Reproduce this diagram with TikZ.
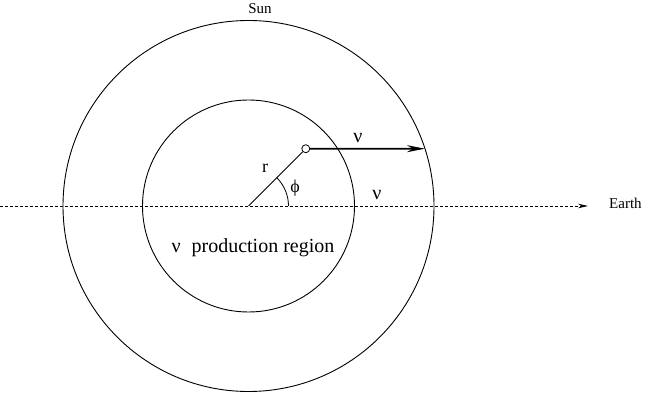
\documentclass[tikz,border=0pt]{standalone}
\usepackage{fontspec}
\setmainfont{Liberation Serif}
\usetikzlibrary{arrows.meta, positioning, calc}

\begin{document}
\begin{tikzpicture}[
          x=1pt, y=1pt,
          every node/.style={inner sep=0pt},
          orbit/.style={draw, line width=0.9pt},
          tag/.style={font=\fontsize{15}{17}\selectfont},
          sym/.style={font=\fontsize{18}{20}\selectfont},
          big/.style={font=\fontsize{20}{22}\selectfont}
        ]
  \useasboundingbox (0,0) rectangle (645,399);
  \coordinate (O) at (248.5,193);
  \draw[orbit] (O) circle (185.5);
  \draw[orbit] (O) circle (106);
  \node[tag] (sun) at (260,390) {Sun};
  % line of sight to the Earth
  \coordinate (west) at (0,193);
  \coordinate (tip) at (588,193);
  \draw[line width=0.8pt, dash pattern=on 3pt off 2pt,
        -{Stealth[length=10pt,width=4.5pt]}] (west) -- (tip);
  \node[tag, anchor=west] (earth) at (609,196) {Earth};
  % emission point
  \node[circle, draw, line width=0.8pt, minimum size=8pt] (src) at ($(O)+(45:81)$) {};
  \draw[line width=0.8pt] (O) -- (src);
  \coordinate (rim) at (424.9,250.3);
  \draw[line width=1.6pt, -{Stealth[length=18pt,width=7pt]}] (src) -- (rim);
  \draw[line width=0.8pt] ($(O)+(40,0)$) arc[start angle=0, end angle=45, radius=40];
  \node[sym] (r) at (265,231) {r};
  \node[sym] (phi) at (295,211) {ϕ};
  \node[big] (nuup) at (358,261) {ν};
  \node[big] (nulo) at (377,204) {ν};
  \node[big] (region) at (253,151) {ν\hspace{0.3em} production region};
\end{tikzpicture}
\end{document}
